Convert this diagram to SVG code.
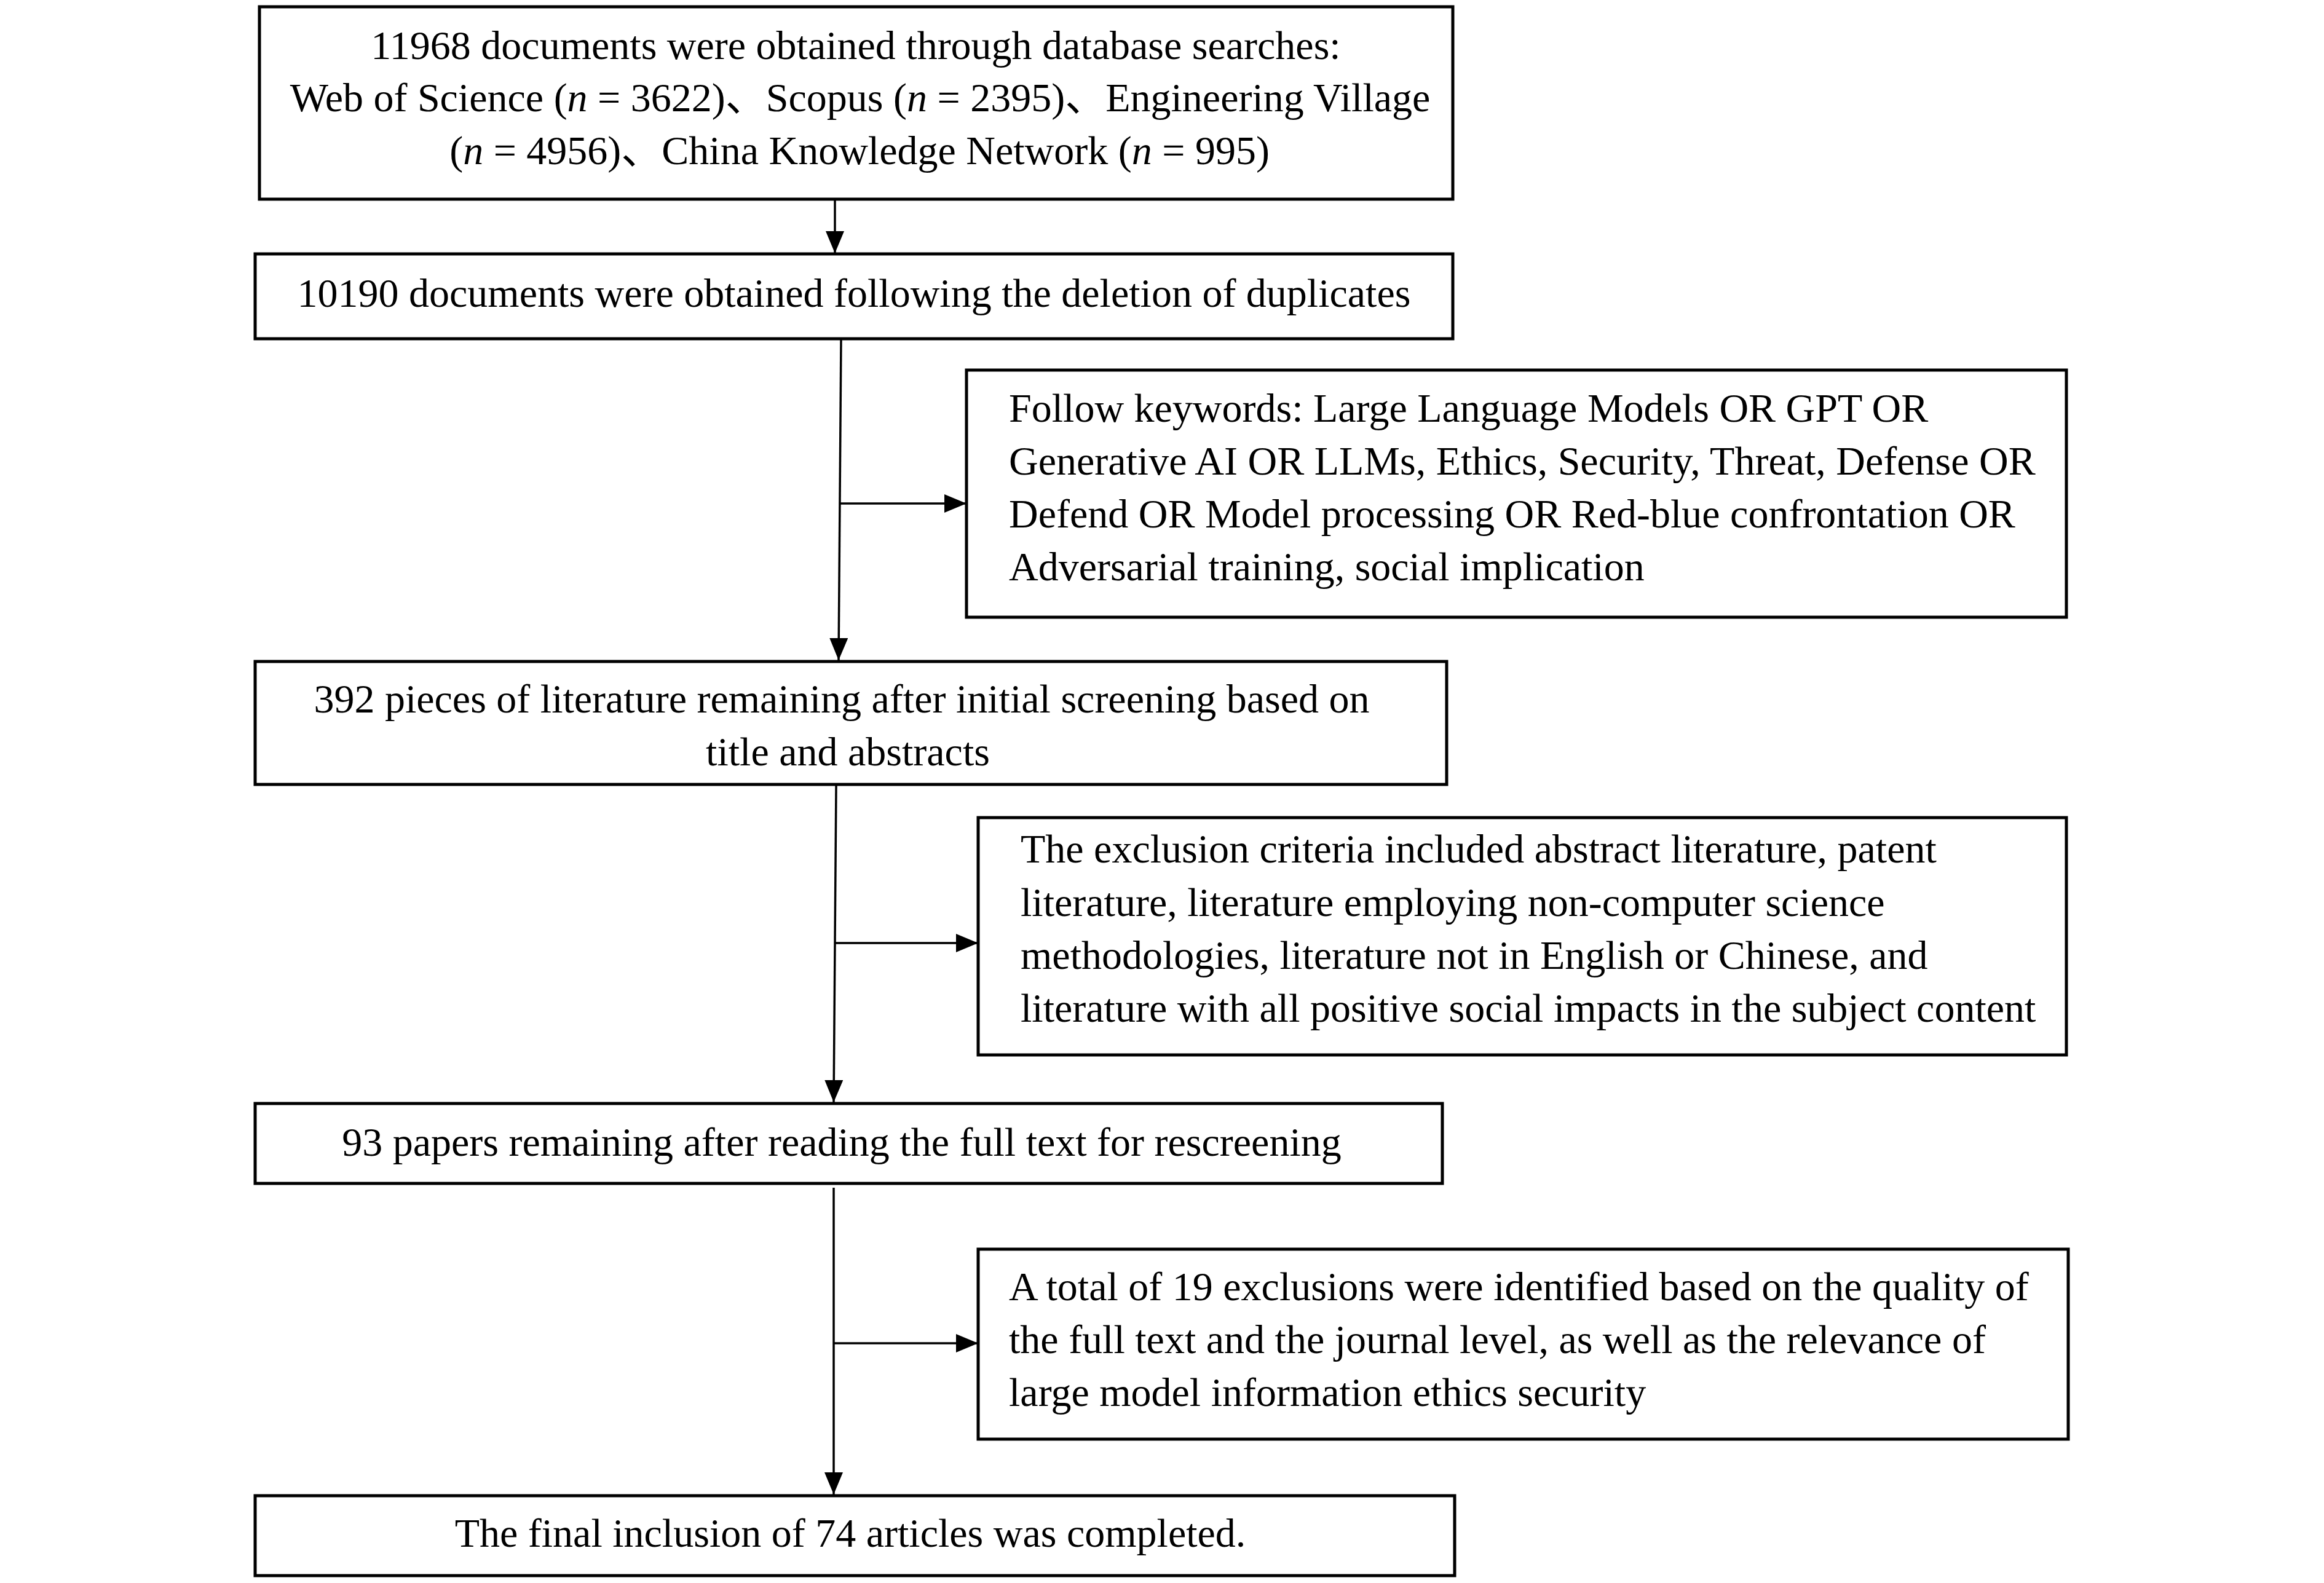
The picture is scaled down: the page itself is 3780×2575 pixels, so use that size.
<svg xmlns="http://www.w3.org/2000/svg" width="3780" height="2575" viewBox="0 0 3780 2575">
<style>
.box{fill:#fff;stroke:#000;stroke-width:5}
.t{font-family:"Liberation Serif","Times New Roman","Noto Sans CJK SC",serif;font-size:66px;fill:#000}
.m{text-anchor:middle}
.c{stroke:#000;stroke-width:3.5;fill:none}
</style>
<defs>
<marker id="ah" markerUnits="userSpaceOnUse" markerWidth="40" markerHeight="34" refX="36" refY="15" orient="auto">
<path d="M0,0 L36,15 L0,30 Z" fill="#000"/>
</marker>
</defs>
<rect width="3780" height="2575" fill="#fff"/>
<g id="connectors">
<line class="c" x1="1358" y1="325" x2="1358" y2="412" marker-end="url(#ah)"/>
<line class="c" x1="1368" y1="552" x2="1364" y2="1074" marker-end="url(#ah)"/>
<line class="c" x1="1366" y1="819" x2="1572" y2="819" marker-end="url(#ah)"/>
<line class="c" x1="1360" y1="1278" x2="1356" y2="1793" marker-end="url(#ah)"/>
<line class="c" x1="1359" y1="1534" x2="1591" y2="1534" marker-end="url(#ah)"/>
<line class="c" x1="1356" y1="1932" x2="1356" y2="2431" marker-end="url(#ah)"/>
<line class="c" x1="1356" y1="2185" x2="1591" y2="2185" marker-end="url(#ah)"/>
</g>
<g id="n1">
<rect class="box" x="422" y="11" width="1941" height="313"/>
<text class="t m" x="1392" y="96">11968 documents were obtained through database searches:</text>
<text class="t m" x="1399" y="181">Web of Science (<tspan font-style="italic">n</tspan> = 3622)、Scopus (<tspan font-style="italic">n</tspan> = 2395)、Engineering Village</text>
<text class="t m" x="1398" y="267">(<tspan font-style="italic">n</tspan> = 4956)、China Knowledge Network (<tspan font-style="italic">n</tspan> = 995)</text>
</g>
<g id="n2">
<rect class="box" x="415" y="413" width="1948" height="138"/>
<text class="t m" x="1389" y="499">10190 documents were obtained following the deletion of duplicates</text>
</g>
<g id="n3">
<rect class="box" x="1572" y="602" width="1789" height="402"/>
<text class="t" x="1641" y="686">Follow keywords: Large Language Models OR GPT OR</text>
<text class="t" x="1641" y="772">Generative AI OR LLMs, Ethics, Security, Threat, Defense OR</text>
<text class="t" x="1641" y="858">Defend OR Model processing OR Red-blue confrontation OR</text>
<text class="t" x="1641" y="944">Adversarial training, social implication</text>
</g>
<g id="n4">
<rect class="box" x="415" y="1076" width="1938" height="200"/>
<text class="t m" x="1369" y="1159">392 pieces of literature remaining after initial screening based on</text>
<text class="t m" x="1379" y="1245">title and abstracts</text>
</g>
<g id="n5">
<rect class="box" x="1591" y="1330" width="1770" height="386"/>
<text class="t" x="1660" y="1403">The exclusion criteria included abstract literature, patent</text>
<text class="t" x="1660" y="1490">literature, literature employing non-computer science</text>
<text class="t" x="1660" y="1576">methodologies, literature not in English or Chinese, and</text>
<text class="t" x="1660" y="1662">literature with all positive social impacts in the subject content</text>
</g>
<g id="n6">
<rect class="box" x="415" y="1795" width="1931" height="130"/>
<text class="t m" x="1369" y="1880">93 papers remaining after reading the full text for rescreening</text>
</g>
<g id="n7">
<rect class="box" x="1591" y="2032" width="1773" height="309"/>
<text class="t" x="1641" y="2115">A total of 19 exclusions were identified based on the quality of</text>
<text class="t" x="1641" y="2201">the full text and the journal level, as well as the relevance of</text>
<text class="t" x="1641" y="2287">large model information ethics security</text>
</g>
<g id="n8">
<rect class="box" x="415" y="2433" width="1951" height="130"/>
<text class="t m" x="1383" y="2516">The final inclusion of 74 articles was completed.</text>
</g>
</svg>
